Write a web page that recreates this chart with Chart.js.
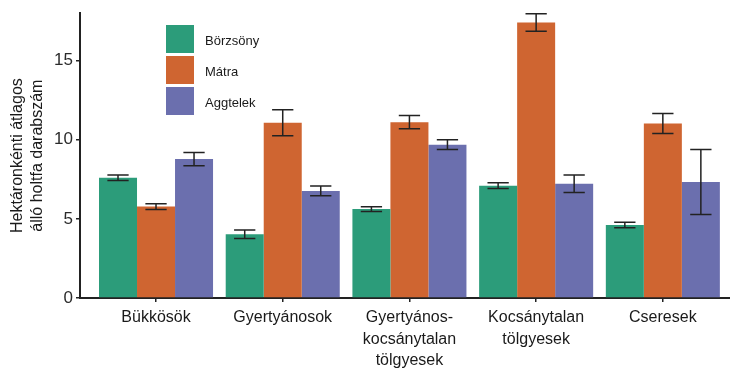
<!DOCTYPE html>
<html>
<head>
<meta charset="utf-8">
<script src="https://cdn.jsdelivr.net/npm/chart.js@4.4.1/dist/chart.umd.min.js"></script>
<style>
  html, body { margin: 0; padding: 0; background: #ffffff; }
  canvas { display: block; }
</style>
</head>
<body>
<canvas id="holtfa-chart" width="730" height="368"></canvas>
<script>
// ---------------------------------------------------------------------------------------
// Daten

var kategorien = [
  'Bükkösök',
  'Gyertyánosok',
  ['Gyertyános-', 'kocsánytalan', 'tölgyesek'],
  ['Kocsánytalan', 'tölgyesek'],
  'Cseresek'
];

var borzsony = [7.6, 4.03, 5.62, 7.1, 4.61];
var borzsony_err = [0.17, 0.27, 0.15, 0.18, 0.17];

var matra = [5.78, 11.07, 11.11, 17.41, 11.03];
var matra_err = [0.18, 0.82, 0.42, 0.55, 0.63];

var aggtelek = [8.78, 6.77, 9.69, 7.22, 7.33];
var aggtelek_err = [0.42, 0.31, 0.31, 0.55, 2.05];

var y_ticks = [0, 5, 10, 15];

var schrift = "'Liberation Sans', Arial, sans-serif";

function punkte(werte) {
  return werte.map(function(v, i){ return {x: i, y: v}; });
}

// ---------------------------------------------------------------------------------------
// Fehlerbalken

var fehlerbalken = {
  id: 'fehlerbalken',
  afterDatasetsDraw: function(chart) {
    var ctx = chart.ctx;
    var y = chart.scales.y;
    ctx.save();
    ctx.strokeStyle = '#222222';
    ctx.lineWidth = 1.5;
    chart.data.datasets.forEach(function(ds, d){
      var meta = chart.getDatasetMeta(d);
      meta.data.forEach(function(bar, i){
        var v = ds.data[i].y;
        var e = ds.fehler[i];
        var top = y.getPixelForValue(v + e);
        var bot = y.getPixelForValue(v - e);
        var half = bar.width * 0.28;
        ctx.beginPath();
        ctx.moveTo(bar.x, top); ctx.lineTo(bar.x, bot);
        ctx.moveTo(bar.x - half, top); ctx.lineTo(bar.x + half, top);
        ctx.moveTo(bar.x - half, bot); ctx.lineTo(bar.x + half, bot);
        ctx.stroke();
      });
    });
    ctx.restore();
  }
};

// ---------------------------------------------------------------------------------------
// Legende im Diagramm

var legende = {
  id: 'legende',
  afterDatasetsDraw: function(chart) {
    var ctx = chart.ctx;
    ctx.save();
    ctx.font = '13px ' + schrift;
    ctx.textBaseline = 'middle';
    chart.data.datasets.forEach(function(ds, d){
      var top = 25 + d * 31;
      ctx.fillStyle = ds.backgroundColor;
      ctx.fillRect(166, top, 28, 28);
      ctx.fillStyle = '#1a1a1a';
      ctx.fillText(ds.label, 205, top + 16);
    });
    ctx.restore();
  }
};

// ---------------------------------------------------------------------------------------
// Diagramm

new Chart(document.getElementById('holtfa-chart'), {
  type: 'bar',
  data: {
    datasets: [
      {
        label: 'Börzsöny',
        backgroundColor: '#2c9c7a',
        data: punkte(borzsony),
        fehler: borzsony_err
      },
      {
        label: 'Mátra',
        backgroundColor: '#cf6531',
        data: punkte(matra),
        fehler: matra_err
      },
      {
        label: 'Aggtelek',
        backgroundColor: '#6b6fae',
        data: punkte(aggtelek),
        fehler: aggtelek_err
      }
    ]
  },
  options: {
    responsive: false,
    animation: false,
    devicePixelRatio: 1,
    layout: {padding: {top: 6, right: 0, bottom: 0, left: 0}},
    datasets: {
      bar: {categoryPercentage: 0.9, barPercentage: 1, borderWidth: 0}
    },
    scales: {
      x: {
        type: 'linear',
        offset: false,
        min: -0.6,
        max: 4.53,
        afterBuildTicks: function(scale) {
          scale.ticks = kategorien.map(function(k, i){ return {value: i}; });
        },
        afterFit: function(scale) { scale.height = 70; },
        grid: {offset: false, drawOnChartArea: false, drawTicks: true, tickLength: 4, color: '#222222', lineWidth: 1.5},
        border: {display: true, color: '#222222', width: 2},
        ticks: {
          autoSkip: false,
          maxRotation: 0,
          padding: 5,
          color: '#1a1a1a',
          font: {family: schrift, size: 16, lineHeight: 1.35},
          callback: function(v) { return kategorien[v]; }
        }
      },
      y: {
        min: 0,
        max: 18,
        afterBuildTicks: function(scale) {
          scale.ticks = y_ticks.map(function(v){ return {value: v}; });
        },
        afterFit: function(scale) { scale.width = 80; },
        grid: {drawOnChartArea: false, drawTicks: true, tickLength: 4, color: '#222222', lineWidth: 1.5},
        border: {display: true, color: '#222222', width: 2},
        ticks: {
          padding: 3,
          color: '#2b2b2b',
          font: {family: schrift, size: 17}
        },
        title: {
          display: true,
          text: ['Hektáronkénti átlagos', 'álló holtfa darabszám'],
          color: '#1a1a1a',
          padding: {top: 8, bottom: 0},
          font: {family: schrift, size: 16, lineHeight: 1.25}
        }
      }
    },
    plugins: {
      legend: {display: false},
      tooltip: {enabled: false}
    }
  },
  plugins: [fehlerbalken, legende]
});
</script>
</body>
</html>
